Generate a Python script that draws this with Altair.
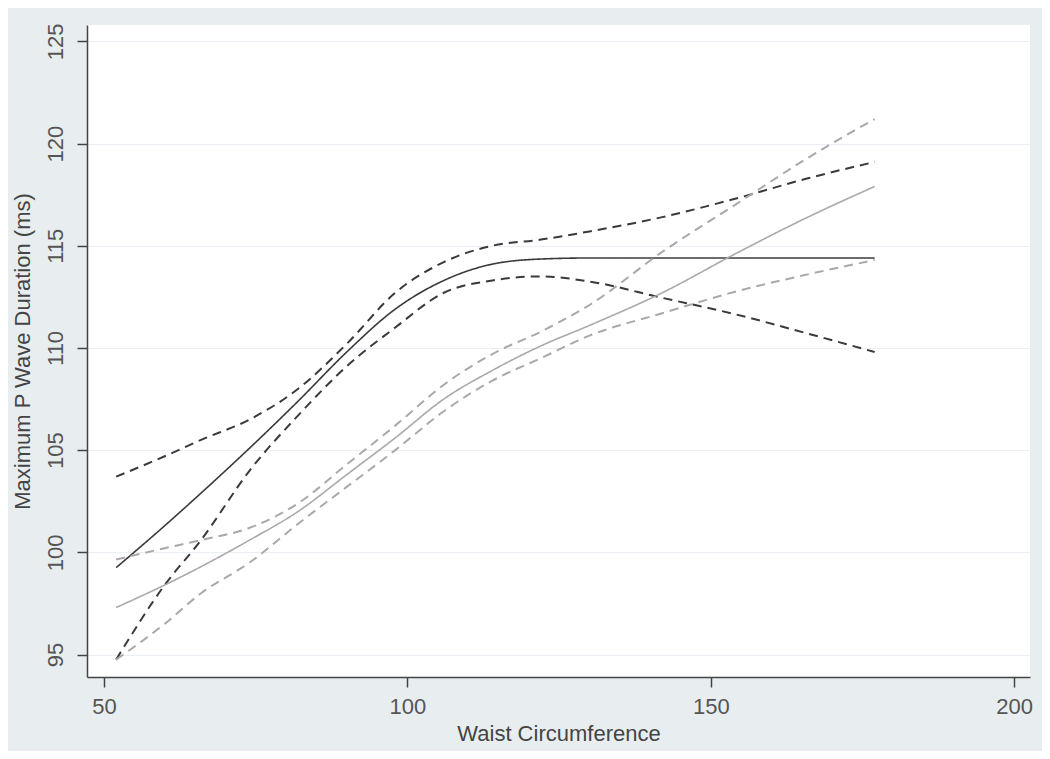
import altair as alt
import pandas as pd

# Waist circumference grid
waist = [52, 60, 66, 74, 82, 90, 98, 106, 114, 122, 130, 142, 154, 166, 177]

# Group 1 (dark): fit and 95% CI
dark_fit   = [99.25, 101.3, 102.9, 105.1, 107.4, 109.8, 111.9, 113.3, 114.1, 114.35, 114.4, 114.4, 114.4, 114.4, 114.4]
dark_upper = [103.7, 104.7, 105.5, 106.5, 108.0, 110.2, 112.7, 114.2, 115.0, 115.3, 115.7, 116.4, 117.3, 118.3, 119.1]
dark_lower = [94.75, 98.4, 100.6, 104.0, 106.7, 109.1, 111.0, 112.7, 113.3, 113.5, 113.25, 112.45, 111.65, 110.7, 109.8]

# Group 2 (light): fit and 95% CI
light_fit   = [97.3, 98.4, 99.3, 100.6, 102.0, 103.8, 105.6, 107.5, 108.9, 110.1, 111.1, 112.7, 114.6, 116.4, 117.9]
light_upper = [99.65, 100.2, 100.6, 101.2, 102.4, 104.3, 106.2, 108.2, 109.7, 110.8, 112.1, 114.7, 117.0, 119.3, 121.2]
light_lower = [94.75, 96.5, 98.0, 99.5, 101.4, 103.2, 105.0, 106.9, 108.4, 109.5, 110.6, 111.7, 112.75, 113.6, 114.3]

x_ticks = [50, 100, 150, 200]
y_ticks = [95, 100, 105, 110, 115, 120, 125]

rows = []
for grp, kind, vals in [
    ("dark", "fit", dark_fit), ("dark", "ci", dark_upper), ("dark", "ci2", dark_lower),
    ("light", "fit", light_fit), ("light", "ci", light_upper), ("light", "ci2", light_lower),
]:
    for i, (xv, yv) in enumerate(zip(waist, vals)):
        rows.append({"waist": xv, "pwave": yv, "group": grp,
                     "kind": "fit" if kind == "fit" else "ci",
                     "line": grp + "_" + kind, "order": i})
df = pd.DataFrame(rows)

FONT = "Liberation Sans"

lines = alt.Chart(df).mark_line(interpolate="monotone").encode(
    x=alt.X("waist:Q",
            scale=alt.Scale(domain=[47.2, 202.6], nice=False, zero=False),
            axis=alt.Axis(values=x_ticks, title="Waist Circumference", grid=False,
                          format="d", labelPadding=9, titlePadding=6)),
    y=alt.Y("pwave:Q",
            scale=alt.Scale(domain=[93.9, 125.8], nice=False, zero=False),
            axis=alt.Axis(values=y_ticks, title="Maximum P Wave Duration (ms)",
                          grid=True, labelAngle=-90, labelAlign="center",
                          labelBaseline="bottom", format="d",
                          labelPadding=10, titlePadding=10)),
    color=alt.Color("group:N", scale=alt.Scale(domain=["dark", "light"],
                                               range=["#3a3a3a", "#a9a9a9"]), legend=None),
    strokeDash=alt.StrokeDash("kind:N", scale=alt.Scale(domain=["fit", "ci"],
                                                        range=[[1, 0], [9, 6]]), legend=None),
    strokeWidth=alt.StrokeWidth("kind:N", scale=alt.Scale(domain=["fit", "ci"],
                                                          range=[1.6, 2.0]), legend=None),
    detail="line:N",
    order="order:Q",
)

chart = lines.properties(
    width=943, height=652,
    autosize=alt.AutoSizeParams(type="none"),
    padding={"left": 79, "top": 17, "right": 12, "bottom": 74},
    background="#e8eef0",
).configure_view(
    fill="white", stroke=None,
).configure_axis(
    labelFont=FONT, titleFont=FONT,
    labelFontSize=22, titleFontSize=22,
    labelColor="#555555", titleColor="#444444",
    titleFontWeight="normal",
    domainColor="#444444", domainWidth=1.5,
    tickColor="#444444", tickSize=10, tickWidth=1.5,
    gridColor="#eaeff5", gridWidth=1,
)

chart.save("out.html", embed_options={"renderer": "svg", "actions": False})
